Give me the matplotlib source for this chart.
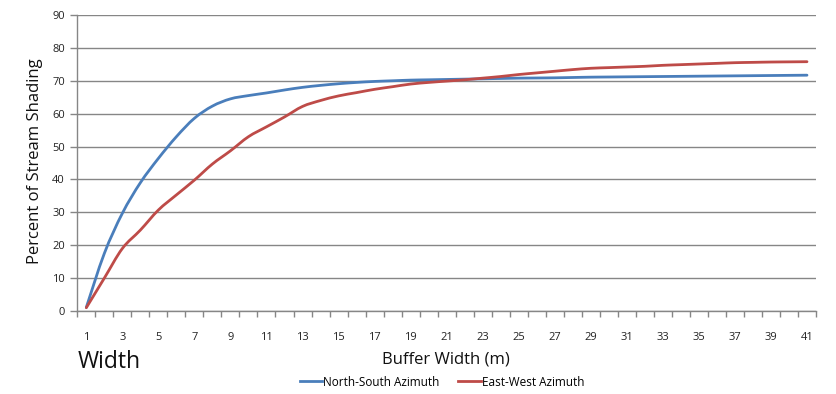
import matplotlib
matplotlib.use("Agg")
import matplotlib.pyplot as plt
import numpy as np
from matplotlib.path import Path
from matplotlib.patches import PathPatch
from matplotlib.lines import Line2D
from matplotlib.ticker import FixedLocator, NullFormatter

buffer_width = list(range(1, 42))
north_south = [1.1, 17.5, 29.7, 39.0, 46.4, 53.0, 58.6, 62.3, 64.5, 65.5,
               66.3, 67.2, 68.0, 68.6, 69.1, 69.5, 69.8, 70.0, 70.2, 70.3,
               70.4, 70.5, 70.6, 70.7, 70.8, 70.85, 70.9, 71.0, 71.1, 71.15,
               71.2, 71.25, 71.3, 71.35, 71.4, 71.45, 71.5, 71.55, 71.6, 71.65,
               71.7]
east_west = [1.0, 10.0, 19.0, 24.6, 30.7, 35.3, 39.8, 44.7, 48.7, 53.0,
             56.0, 59.0, 62.2, 64.0, 65.4, 66.4, 67.4, 68.2, 69.0, 69.5,
             69.9, 70.3, 70.8, 71.3, 71.9, 72.4, 72.9, 73.4, 73.8, 74.0,
             74.2, 74.4, 74.7, 74.9, 75.1, 75.3, 75.5, 75.6, 75.7, 75.75,
             75.8]
x_tick_labels = [str(v) for v in range(1, 42, 2)]
y_ticks = list(range(0, 91, 10))

W, H = 836, 394
fig = plt.figure(figsize=(W / 100, H / 100), dpi=100)
plt.rcParams['font.family'] = ['Open Sans', 'DejaVu Sans']

ax = fig.add_axes([77.3 / W, 1 - 311 / H, (816 - 77.3) / W, (311 - 15) / H])
grid_col = '#868686'


def smooth_path(xs, ys, t=1 / 6):
    """Excel-like smoothed line: cubic Bezier segments (Catmull-Rom control points)."""
    p = np.column_stack([xs, ys]).astype(float)
    n = len(p)
    verts = [p[0]]
    codes = [Path.MOVETO]
    for i in range(n - 1):
        p0 = p[i - 1] if i > 0 else p[i]
        p1 = p[i]
        p2 = p[i + 1]
        p3 = p[i + 2] if i + 2 < n else p[i + 1]
        c1 = p1 + (p2 - p0) * t
        c2 = p2 - (p3 - p1) * t
        verts += [c1, c2, p2]
        codes += [Path.CURVE4] * 3
    return Path(verts, codes)


for ys, col, lab in [(north_south, '#4a7ebb', 'North-South Azimuth'),
                     (east_west, '#be4b48', 'East-West Azimuth')]:
    patch = PathPatch(smooth_path(buffer_width, ys), facecolor='none', edgecolor=col,
                      lw=2.0, capstyle='round', joinstyle='round', zorder=3)
    ax.add_patch(patch)

ax.set_xlim(0.5, 41.5)
ax.set_ylim(0, 90)
ax.set_yticks(y_ticks)
ax.yaxis.grid(True, color=grid_col, lw=1.0)
ax.set_axisbelow(True)
for s in ['top', 'right']:
    ax.spines[s].set_visible(False)
for s in ['left', 'bottom']:
    ax.spines[s].set_color(grid_col)
    ax.spines[s].set_linewidth(1.0)

ax.set_xticks(list(range(1, 42, 2)))
ax.set_xticklabels(x_tick_labels)
ax.xaxis.set_minor_locator(FixedLocator([v + 0.5 for v in range(0, 42)]))
ax.xaxis.set_minor_formatter(NullFormatter())
ax.tick_params(axis='x', which='major', length=0, pad=15, labelsize=8, labelcolor='#222222')
ax.tick_params(axis='x', which='minor', length=4, color=grid_col, width=1)
ax.tick_params(axis='y', which='major', length=5, color=grid_col, width=1, pad=4,
               labelsize=8, labelcolor='#222222')

fig.text(35 / W, 1 - 161 / H, 'Percent of Stream Shading', rotation=90,
         ha='center', va='center', fontsize=12, color='#111111')
fig.text(446 / W, 1 - 359 / H, 'Buffer Width (m)', ha='center', va='center',
         fontsize=12, color='#111111')
fig.text(78 / W, 1 - 362 / H, 'Width', ha='left', va='center', fontsize=16.5,
         color='#111111')

handles = [Line2D([], [], color='#4a7ebb', lw=2.0), Line2D([], [], color='#be4b48', lw=2.0)]
fig.legend(handles, ['North-South Azimuth', 'East-West Azimuth'], loc='center',
           bbox_to_anchor=(442 / W, 1 - 382 / H), ncol=2, frameon=False,
           fontsize=8.5, handlelength=1.9, handletextpad=0.1, columnspacing=1.6)

fig.savefig('out.png', dpi=100)
